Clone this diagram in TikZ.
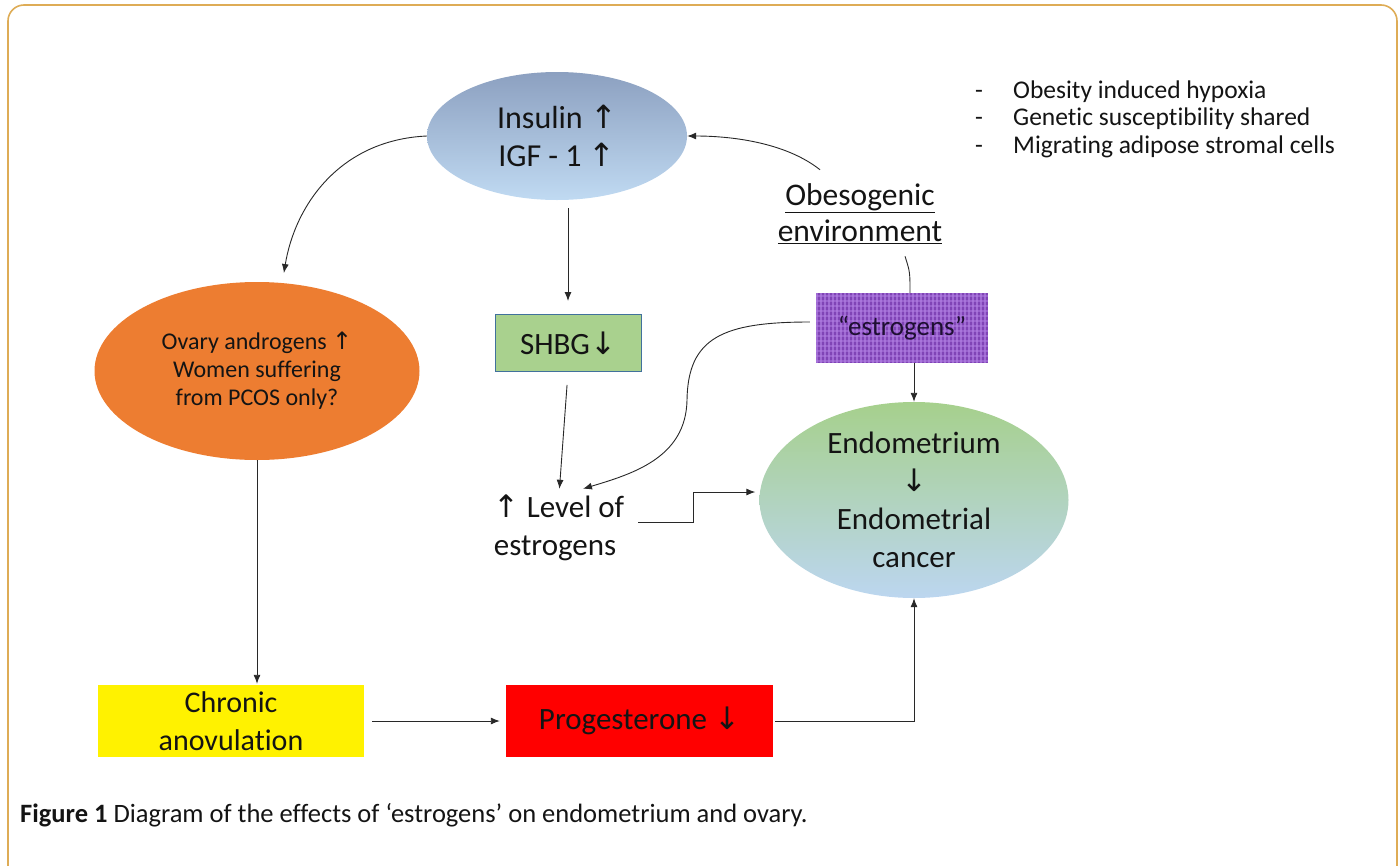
\documentclass[tikz,border=0pt]{standalone}
\usepackage{fontspec}
\setmainfont{Carlito}[Ligatures=NoCommon]
\newfontfamily\arrfont{DejaVu Sans}
\usetikzlibrary{shapes.geometric,arrows.meta,calc}
\newcommand{\ua}{{\arrfont ↑}}
\newcommand{\da}{{\arrfont ↓}}
\newcommand{\fs}[2]{\fontsize{#1}{#2}\selectfont}
\definecolor{bordercol}{RGB}{222,172,86}
\definecolor{insTop}{RGB}{140,160,192}
\definecolor{insBot}{RGB}{192,218,242}
\definecolor{orng}{RGB}{237,125,49}
\definecolor{shbgfill}{RGB}{169,209,142}
\definecolor{shbgline}{RGB}{65,113,156}
\definecolor{purpBase}{RGB}{128,68,182}
\definecolor{purpLine}{RGB}{178,128,228}
\definecolor{endoTop}{RGB}{166,208,140}
\definecolor{endoBot}{RGB}{188,214,240}
\definecolor{txt}{RGB}{20,20,20}
\definecolor{linecol}{RGB}{40,40,40}
\tikzset{
  ell/.style={ellipse, inner sep=0pt, align=center, text=txt},
  boxnode/.style={rectangle, inner sep=0pt, align=center, text=txt},
  conn/.style={draw=linecol, line width=0.9pt},
  arr/.style={conn, -{Latex[length=9pt,width=7pt]}},
  plain/.style={inner sep=0pt, text=txt},
}
\begin{document}
\begin{tikzpicture}[x=1pt,y=-1pt]
\useasboundingbox (0,0) rectangle (1400,865);
\begin{scope}
\clip (0,0) rectangle (1400,865);
\draw[bordercol, line width=1.6pt, rounded corners=16pt] (8,5) rectangle (1397,905);
\end{scope}

% nodes
\node[ell, minimum width=260, minimum height=128, top color=insTop, bottom color=insBot, font=\fs{32}{38}] (ins) at (557,136) {Insulin \ua\\IGF - 1 \ua};
\node[ell, minimum width=325, minimum height=178, fill=orng, font=\fs{24}{28}] (ov) at (257,371) {Ovary androgens \ua\\Women suffering\\from PCOS only?};
\node[boxnode, minimum width=146, minimum height=57, fill=shbgfill, draw=shbgline, line width=1pt, font=\fs{31}{34}] (shbg) at (568,343) {SHBG\da};
\node[boxnode, minimum width=172, minimum height=70, fill=purpBase,
  path picture={
    \foreach \i in {1,5,...,172} {\draw[purpLine, line width=1.3pt, opacity=0.65] ([xshift=\i]path picture bounding box.south west) -- ([xshift=\i]path picture bounding box.north west);}
    \foreach \j in {2,7,...,70} {\draw[purpLine, line width=1.2pt, opacity=0.5] ([yshift=\j]path picture bounding box.south west) -- ([yshift=\j]path picture bounding box.south east);}
    \node[boxnode, font=\fs{27}{30}, text={rgb,255:red,30;green,15;blue,50}] at (path picture bounding box.center) {“estrogens”};
  }] (estro) at (902,328) {};
\node[plain, align=center, font=\fs{31.5}{36}] (obes) at (860,214) {\underline{Obesogenic}\\\underline{environment}};
\node[plain, align=left, anchor=west, font=\fs{25.5}{27.5}] (bul) at (975,119) {\makebox[38pt][l]{-}Obesity induced hypoxia\\\makebox[38pt][l]{-}Genetic susceptibility shared\\\makebox[38pt][l]{-}Migrating adipose stromal cells};
\node[ell, minimum width=309, minimum height=196, top color=endoTop, bottom color=endoBot, font=\fs{31}{38}] (endo) at (914,500) {Endometrium\\\da\\Endometrial\\cancer};
\node[plain, align=left, font=\fs{31}{38}] (lvl) at (559,528) {\ua\ Level of\\ estrogens};
\node[boxnode, minimum width=266, minimum height=72, fill=yellow, font=\fs{30}{38}] (chr) at (231,721) {Chronic\\anovulation};
\node[boxnode, minimum width=267, minimum height=72, fill=red, font=\fs{31}{34}] (prog) at (639.5,721) {Progesterone \da};
\node[plain, anchor=west, font=\fs{26.5}{30}] (cap) at (20,815) {\textbf{Figure 1} Diagram of the effects of ‘estrogens’ on endometrium and ovary.};

% connectors
\draw[arr, shorten >=10pt] (ins.west) .. controls (340,140) and (295,205) .. (ov.74);
\draw[arr, shorten <=8pt, shorten >=13pt] (shbg.north |- ins.south) -- (shbg.north);
\draw[arr, shorten <=13pt, shorten >=6pt] (shbg.south) -- (lvl.north);
\draw[arr] ($(estro.west)+(-6,-6)$) .. controls (722,322) and (688,338) .. (687,400) .. controls (686,458) and (632,474) .. ($(lvl.north)+(24,-6)$);
\draw[arr] ($(obes.north)+(-40,-14)$) .. controls (785,142) and (730,136) .. (ins.east);
\draw[conn] ($(obes.south)+(45,12)$) .. controls (910,272) .. ($(estro.north)+(8,0)$);
\draw[arr] (endo.north |- estro.south) -- (endo.north);
\draw[arr, shorten >=4pt] ($(lvl.east)+(14,-6)$) -- ++(55,0) |- ($(endo.west)+(0,-8)$);
\draw[arr, shorten >=1pt] (ov.south) -- (ov.south |- chr.north);
\draw[arr, shorten <=8pt, shorten >=6pt] (chr.east) -- (prog.west);
\draw[arr, shorten <=2pt] (prog.east) -| (endo.south);
\end{tikzpicture}
\end{document}
